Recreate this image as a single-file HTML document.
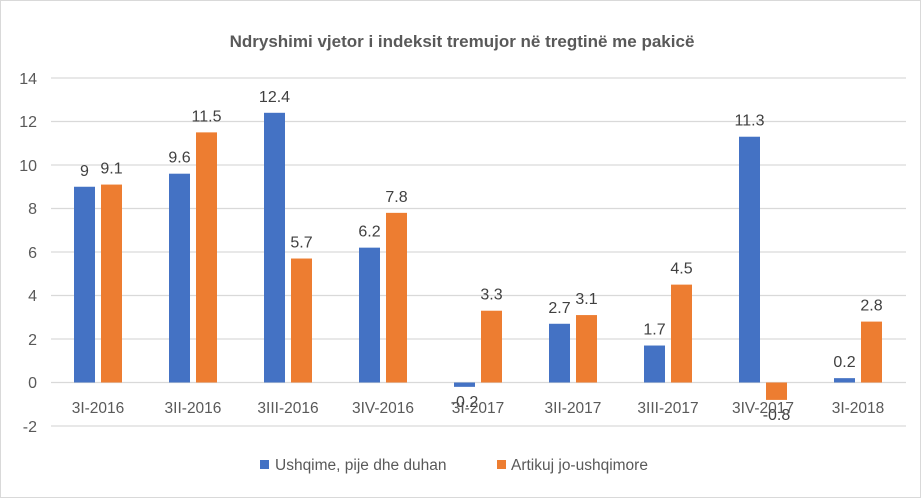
<!DOCTYPE html>
<html><head><style>
html,body{margin:0;padding:0;background:#fff}
svg{display:block;font-family:"Liberation Sans",sans-serif}
</style></head><body>
<svg width="921" height="498" viewBox="0 0 921 498" xmlns="http://www.w3.org/2000/svg">
<rect x="0.5" y="0.5" width="920" height="497" fill="#fff" stroke="#d9d9d9"/>
<text x="462" y="47" text-anchor="middle" font-size="17" font-weight="bold" fill="#595959">Ndryshimi vjetor i indeksit tremujor në tregtinë me pakicë</text>
<g stroke="#d9d9d9" stroke-width="1.3">
<line x1="51" x2="906" y1="78" y2="78"/>
<line x1="51" x2="906" y1="121.5" y2="121.5"/>
<line x1="51" x2="906" y1="165" y2="165"/>
<line x1="51" x2="906" y1="208.5" y2="208.5"/>
<line x1="51" x2="906" y1="252" y2="252"/>
<line x1="51" x2="906" y1="295.5" y2="295.5"/>
<line x1="51" x2="906" y1="339" y2="339"/>
<line x1="51" x2="906" y1="382.5" y2="382.5"/>
<line x1="51" x2="906" y1="426" y2="426"/>
</g>
<g font-size="16" fill="#595959" text-anchor="end">
<text x="37" y="84">14</text><text x="37" y="127">12</text><text x="37" y="171">10</text>
<text x="37" y="214">8</text><text x="37" y="258">6</text><text x="37" y="301">4</text>
<text x="37" y="345">2</text><text x="37" y="388">0</text><text x="37" y="432">-2</text>
</g>
<g id="bars"></g>
<g font-size="16" fill="#404040" text-anchor="middle" id="labels"></g>
<g font-size="15.5" fill="#595959" text-anchor="middle" id="cats"></g>
<rect x="260" y="460" width="9" height="9" fill="#4472c4"/>
<text x="275" y="470" font-size="15.5" fill="#595959">Ushqime, pije dhe duhan</text>
<rect x="497" y="460" width="9" height="9" fill="#ed7d31"/>
<text x="511" y="470" font-size="15.5" fill="#595959">Artikuj jo-ushqimore</text>
<script>
var cats=["3I-2016","3II-2016","3III-2016","3IV-2016","3I-2017","3II-2017","3III-2017","3IV-2017","3I-2018"];
var a=[9,9.6,12.4,6.2,-0.2,2.7,1.7,11.3,0.2],b=[9.1,11.5,5.7,7.8,3.3,3.1,4.5,-0.8,2.8];
var ns="http://www.w3.org/2000/svg",z=382.5,k=21.75;
function el(p,t,at,tx){var e=document.createElementNS(ns,t);for(var q in at)e.setAttribute(q,at[q]);if(tx!==undefined)e.textContent=tx;document.getElementById(p).appendChild(e);}
for(var i=0;i<9;i++){var c=98+i*95;
[[a[i],c-24,"#4472c4"],[b[i],c+3,"#ed7d31"]].forEach(function(s){var v=s[0],h=Math.abs(v)*k,y=v>=0?z-h:z;
el("bars","rect",{x:s[1],y:y,width:21,height:h,fill:s[2]});
var ly=v>=0?y-11:z+h+20;el("labels","text",{x:s[1]+10.5,y:ly},String(v));});
el("cats","text",{x:c,y:413},cats[i]);}
</script>
</svg>
</body></html>
